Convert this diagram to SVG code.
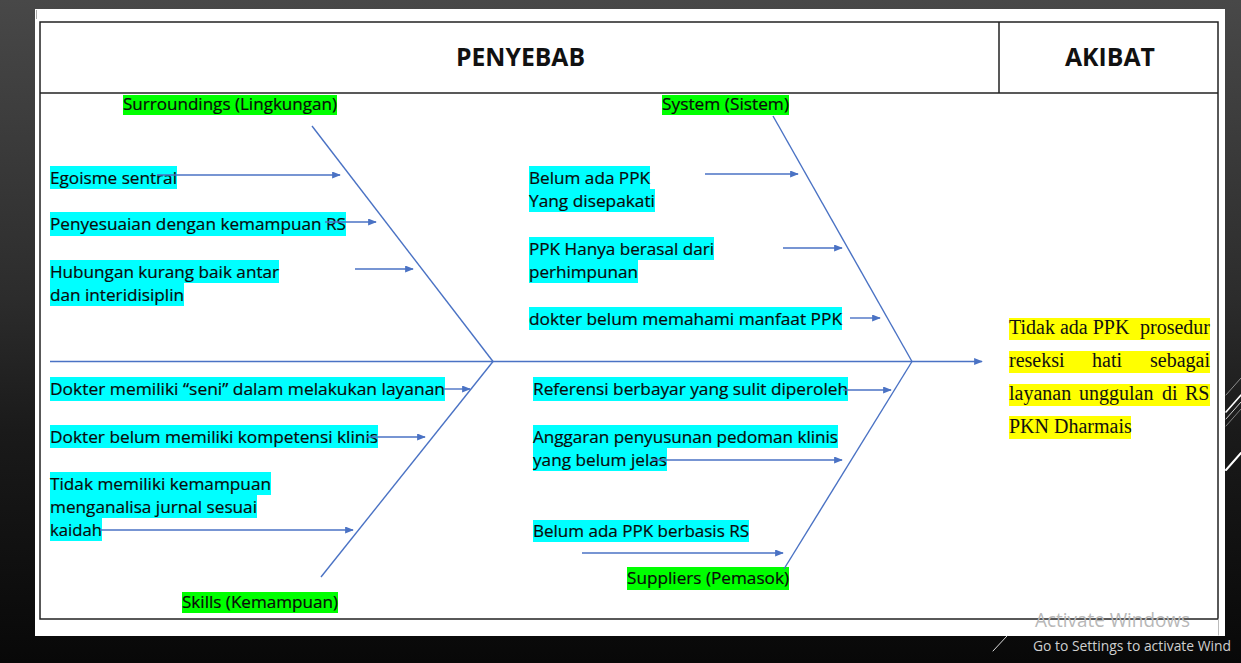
<svg xmlns="http://www.w3.org/2000/svg" width="1241" height="663" viewBox="0 0 1241 663">
<defs>
<linearGradient id="bg" x1="0" y1="0" x2="0" y2="1">
<stop offset="0" stop-color="#484848"/>
<stop offset="0.45" stop-color="#2c2c2c"/>
<stop offset="0.65" stop-color="#1a1a1a"/>
<stop offset="1" stop-color="#080808"/>
</linearGradient>
<marker id="ah" viewBox="0 0 10 8" refX="9" refY="4" markerWidth="9" markerHeight="7" markerUnits="userSpaceOnUse" orient="auto">
<path d="M0,0 L10,4 L0,8 z" fill="#4a72c4"/>
</marker>
<style>
.t{font-family:"Open Sans","Noto Sans",sans-serif;font-size:17px;fill:#0a0a0a;stroke:#0a0a0a;stroke-width:0.2}
.h{font-family:"Open Sans","Noto Sans",sans-serif;font-size:24.5px;font-weight:bold;fill:#111}
.s{font-family:"Liberation Serif","Times New Roman",serif;font-size:20px;fill:#111}
.cy{fill:#00ffff}
.gr{fill:#00ff00}
.ye{fill:#ffff00}
.bone{stroke:#4a72c4;stroke-width:1.4;fill:none}
.arr{stroke:#4a72c4;stroke-width:1.4;fill:none;marker-end:url(#ah)}
.wm{font-family:"Open Sans","Noto Sans",sans-serif}
</style>
</defs>
<rect x="0" y="0" width="1241" height="663" fill="url(#bg)"/>
<rect x="35" y="9" width="1190" height="627" fill="#ffffff"/>
<line x1="36.5" y1="10" x2="36.5" y2="19" stroke="#aaa" stroke-width="1"/>
<g id="frame" fill="none" stroke="#222" stroke-width="1.5">
<rect x="40" y="22" width="1178" height="597"/>
<line x1="40" y1="93" x2="1218" y2="93"/>
<line x1="999" y1="22" x2="999" y2="93"/>
</g>
<g id="header-penyebab"><text class="h" x="456" y="66" textLength="129" lengthAdjust="spacingAndGlyphs">PENYEBAB</text></g>
<g id="header-akibat"><text class="h" x="1065" y="66" textLength="90" lengthAdjust="spacingAndGlyphs">AKIBAT</text></g>

<g id="cat-surroundings"><rect class="gr" x="123" y="95" width="214" height="20"/><text class="t" x="123" y="110" textLength="214" lengthAdjust="spacingAndGlyphs">Surroundings (Lingkungan)</text></g>
<g id="cat-system"><rect class="gr" x="662" y="95" width="127" height="20"/><text class="t" x="662" y="110" textLength="127" lengthAdjust="spacingAndGlyphs">System (Sistem)</text></g>
<g id="cat-skills"><rect class="gr" x="182" y="592" width="156" height="21"/><text class="t" x="182" y="607.5" textLength="156" lengthAdjust="spacingAndGlyphs">Skills (Kemampuan)</text></g>
<g id="cat-suppliers"><rect class="gr" x="627" y="567" width="162" height="23"/><text class="t" x="627" y="584" textLength="162" lengthAdjust="spacingAndGlyphs">Suppliers (Pemasok)</text></g>

<g id="c-egoisme"><rect class="cy" x="50" y="166" width="127" height="23"/><text class="t" x="50" y="183.5" textLength="127" lengthAdjust="spacingAndGlyphs">Egoisme sentral</text></g>
<g id="c-penyesuaian"><rect class="cy" x="50" y="212" width="296" height="24"/><text class="t" x="50" y="230" textLength="296" lengthAdjust="spacingAndGlyphs">Penyesuaian dengan kemampuan RS</text></g>
<g id="c-hubungan"><rect class="cy" x="50" y="260" width="229" height="23"/><rect class="cy" x="50" y="283" width="134" height="23"/><text class="t" x="50" y="277.5" textLength="229" lengthAdjust="spacingAndGlyphs">Hubungan kurang baik antar</text><text class="t" x="50" y="300.5" textLength="134" lengthAdjust="spacingAndGlyphs">dan interidisiplin</text></g>
<g id="c-seni"><rect class="cy" x="50" y="377" width="395" height="24"/><text class="t" x="50" y="395" textLength="395" lengthAdjust="spacingAndGlyphs">Dokter memiliki “seni” dalam melakukan layanan</text></g>
<g id="c-kompetensi"><rect class="cy" x="50" y="425" width="328" height="23"/><text class="t" x="50" y="442.5" textLength="328" lengthAdjust="spacingAndGlyphs">Dokter belum memiliki kompetensi klinis</text></g>
<g id="c-jurnal"><rect class="cy" x="50" y="472" width="221" height="23"/><rect class="cy" x="50" y="495" width="207" height="23"/><rect class="cy" x="50" y="518" width="52" height="23"/><text class="t" x="50" y="489.5" textLength="221" lengthAdjust="spacingAndGlyphs">Tidak memiliki kemampuan</text><text class="t" x="50" y="512.5" textLength="207" lengthAdjust="spacingAndGlyphs">menganalisa jurnal sesuai</text><text class="t" x="50" y="535.5" textLength="52" lengthAdjust="spacingAndGlyphs">kaidah</text></g>

<g id="c-belumppk"><rect class="cy" x="529" y="166" width="121" height="23"/><rect class="cy" x="529" y="189" width="126" height="23"/><text class="t" x="529" y="183.5" textLength="121" lengthAdjust="spacingAndGlyphs">Belum ada PPK</text><text class="t" x="529" y="206.5" textLength="126" lengthAdjust="spacingAndGlyphs">Yang disepakati</text></g>
<g id="c-perhimpunan"><rect class="cy" x="529" y="237" width="185" height="23"/><rect class="cy" x="529" y="260" width="109" height="23"/><text class="t" x="529" y="254.5" textLength="185" lengthAdjust="spacingAndGlyphs">PPK Hanya berasal dari</text><text class="t" x="529" y="277.5" textLength="109" lengthAdjust="spacingAndGlyphs">perhimpunan</text></g>
<g id="c-manfaat"><rect class="cy" x="529" y="307" width="313" height="23"/><text class="t" x="529" y="324.5" textLength="313" lengthAdjust="spacingAndGlyphs">dokter belum memahami manfaat PPK</text></g>
<g id="c-referensi"><rect class="cy" x="533" y="377" width="315" height="24"/><text class="t" x="533" y="395" textLength="315" lengthAdjust="spacingAndGlyphs">Referensi berbayar yang sulit diperoleh</text></g>
<g id="c-anggaran"><rect class="cy" x="533" y="425" width="305" height="23"/><rect class="cy" x="533" y="448" width="134" height="23"/><text class="t" x="533" y="442.5" textLength="305" lengthAdjust="spacingAndGlyphs">Anggaran penyusunan pedoman klinis</text><text class="t" x="533" y="465.5" textLength="134" lengthAdjust="spacingAndGlyphs">yang belum jelas</text></g>
<g id="c-berbasis"><rect class="cy" x="533" y="520" width="216" height="22"/><text class="t" x="533" y="537" textLength="216" lengthAdjust="spacingAndGlyphs">Belum ada PPK berbasis RS</text></g>

<g id="effect">
<rect class="ye" x="1009" y="318" width="201" height="22"/>
<rect class="ye" x="1009" y="351" width="201" height="22"/>
<rect class="ye" x="1009" y="384" width="201" height="22"/>
<rect class="ye" x="1009" y="416" width="122" height="23"/>
<text class="s" y="334"><tspan x="1009">Tidak ada PPK</tspan><tspan x="1140">prosedur</tspan></text>
<text class="s" y="367"><tspan x="1009">reseksi</tspan><tspan x="1092">hati</tspan><tspan x="1150">sebagai</tspan></text>
<text class="s" y="400"><tspan x="1009">layanan</tspan><tspan x="1079">unggulan</tspan><tspan x="1162">di</tspan><tspan x="1185">RS</tspan></text>
<text class="s" x="1009" y="433">PKN Dharmais</text>
</g>

<g id="connectors">
<line class="arr" x1="50" y1="361.5" x2="982" y2="361.5"/>
<line class="bone" x1="312" y1="126" x2="493" y2="361.5"/>
<line class="bone" x1="493" y1="361.5" x2="321" y2="577"/>
<line class="bone" x1="773" y1="116" x2="912" y2="361.5"/>
<line class="bone" x1="912" y1="361.5" x2="784" y2="569"/>
<line class="arr" x1="157" y1="175" x2="340" y2="175"/>
<line class="arr" x1="325" y1="222" x2="376" y2="222"/>
<line class="arr" x1="355" y1="269" x2="413" y2="269"/>
<line class="arr" x1="444" y1="389" x2="470" y2="389"/>
<line class="arr" x1="366" y1="437" x2="425" y2="437"/>
<line class="arr" x1="100" y1="530" x2="353" y2="530"/>
<line class="arr" x1="705" y1="174" x2="798" y2="174"/>
<line class="arr" x1="783" y1="248" x2="842" y2="248"/>
<line class="arr" x1="850" y1="318" x2="880" y2="318"/>
<line class="arr" x1="843" y1="390" x2="891" y2="390"/>
<line class="arr" x1="652" y1="460" x2="842" y2="460"/>
<line class="arr" x1="582" y1="553" x2="783" y2="553"/>
</g>

<g id="decor" stroke-linecap="round">
<line x1="1226" y1="395" x2="1241" y2="378" stroke="#aaa" stroke-width="0.8"/>
<line x1="1226" y1="412" x2="1241" y2="395" stroke="#fff" stroke-width="1.6"/>
<line x1="1226" y1="419" x2="1241" y2="402" stroke="#ccc" stroke-width="1"/>
<line x1="1226" y1="426" x2="1241" y2="409" stroke="#999" stroke-width="0.8"/>
<line x1="1226" y1="470" x2="1241" y2="453" stroke="#fff" stroke-width="2"/>
<line x1="993" y1="651" x2="1007" y2="636" stroke="#ddd" stroke-width="1"/>
<line x1="1218.5" y1="619" x2="1218.5" y2="635" stroke="#bbb" stroke-width="1"/>
</g>
<g id="watermark">
<text class="wm" x="1035" y="627" font-size="20" fill="#b8b8b8" textLength="155" lengthAdjust="spacingAndGlyphs">Activate Windows</text>
<text class="wm" x="1033" y="651" font-size="14.5" fill="#cfcfcf" textLength="198" lengthAdjust="spacingAndGlyphs">Go to Settings to activate Wind</text>
</g>
</svg>
